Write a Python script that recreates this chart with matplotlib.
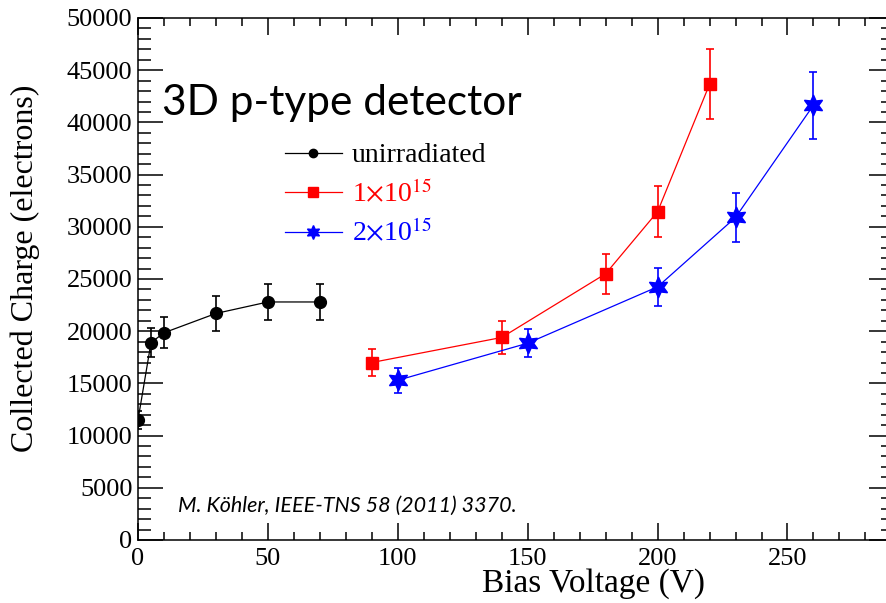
import numpy as np
import matplotlib
matplotlib.use("Agg")
import matplotlib.pyplot as plt
from matplotlib.ticker import MultipleLocator
from matplotlib.lines import Line2D

plt.rcParams["mathtext.fontset"] = "stix"

# unirradiated
v_unirr = [0, 5, 10, 30, 50, 70]
q_unirr = [11500, 18900, 19850, 21700, 22800, 22800]
e_unirr = [900, 1400, 1500, 1700, 1720, 1720]

# 1x10^15
v_1e15 = [90, 140, 180, 200, 220]
q_1e15 = [17000, 19400, 25500, 31450, 43650]
e_1e15 = [1280, 1600, 1900, 2450, 3350]

# 2x10^15
v_2e15 = [100, 150, 200, 230, 260]
q_2e15 = [15300, 18850, 24250, 30900, 41650]
e_2e15 = [1200, 1350, 1850, 2350, 3200]

labels = ["unirradiated", r"1$\times$10$^{15}$", r"2$\times$10$^{15}$"]
colors = ["black", "red", "blue"]
markers = ["o", "s", (6, 1, 0)]

W, H = 887, 603
fig = plt.figure(figsize=(W / 100, H / 100), dpi=100)
# axes run a little past the right edge, like the cropped original
ax = fig.add_axes([138 / W, (H - 540) / H, 756 / W, 522 / H])

serif = "Liberation Serif"

series = [(v_unirr, q_unirr, e_unirr, 8.5),
          (v_1e15, q_1e15, e_1e15, 8),
          (v_2e15, q_2e15, e_2e15, 15)]
for (v, q, e, ms), c, m in zip(series, colors, markers):
    ax.errorbar(v, q, yerr=e, color=c, marker=m, ms=ms, lw=0.9,
                elinewidth=1.2, capsize=3, capthick=1.2)

ax.set_xlim(0, 291)
ax.set_ylim(0, 50000)
ax.xaxis.set_major_locator(MultipleLocator(50))
ax.xaxis.set_minor_locator(MultipleLocator(10))
ax.yaxis.set_major_locator(MultipleLocator(5000))
ax.yaxis.set_minor_locator(MultipleLocator(1000))

for s in ax.spines.values():
    s.set_linewidth(1.1)
ax.tick_params(axis="both", which="both", direction="in", top=True, right=True,
               width=1.1, labelsize=19)
ax.tick_params(axis="x", which="major", length=12, pad=6)
ax.tick_params(axis="x", which="minor", length=6)
ax.tick_params(axis="y", which="major", length=18, pad=4)
ax.tick_params(axis="y", which="minor", length=9.5)
for lab in ax.get_xticklabels() + ax.get_yticklabels():
    lab.set_fontfamily(serif)

fig.text(705 / W, 1 - 584 / H, "Bias Voltage (V)", family=serif, fontsize=24,
         ha="right", va="center")
fig.text(25 / W, 1 - 85 / H, "Collected Charge (electrons)", family=serif,
         fontsize=23, rotation=90, ha="center", va="top")

ax.text((162 - 138) / 756, (540 - 115) / 522, "3D p-type detector",
        transform=ax.transAxes, family="Lato", fontsize=30.5, ha="left", va="baseline")
ax.text((178 - 138) / 756, (540 - 512) / 522, "M. Köhler, IEEE-TNS 58 (2011) 3370.",
        transform=ax.transAxes, family="Lato", style="italic", fontsize=15.5,
        ha="left", va="baseline")

handles = [Line2D([], [], color=c, marker=m, ms=ms, lw=0.9)
           for c, m, ms in zip(colors, markers, [6, 6.5, 10])]
ax.legend(handles, labels, loc="upper left",
          bbox_to_anchor=((285 - 138) / 756, (540 - 143) / 522),
          frameon=False, borderpad=0, borderaxespad=0, handlelength=2.05,
          handletextpad=0.35, labelspacing=0.42, labelcolor="linecolor",
          prop={"family": serif, "size": 20})

fig.savefig("out.png", dpi=100)
